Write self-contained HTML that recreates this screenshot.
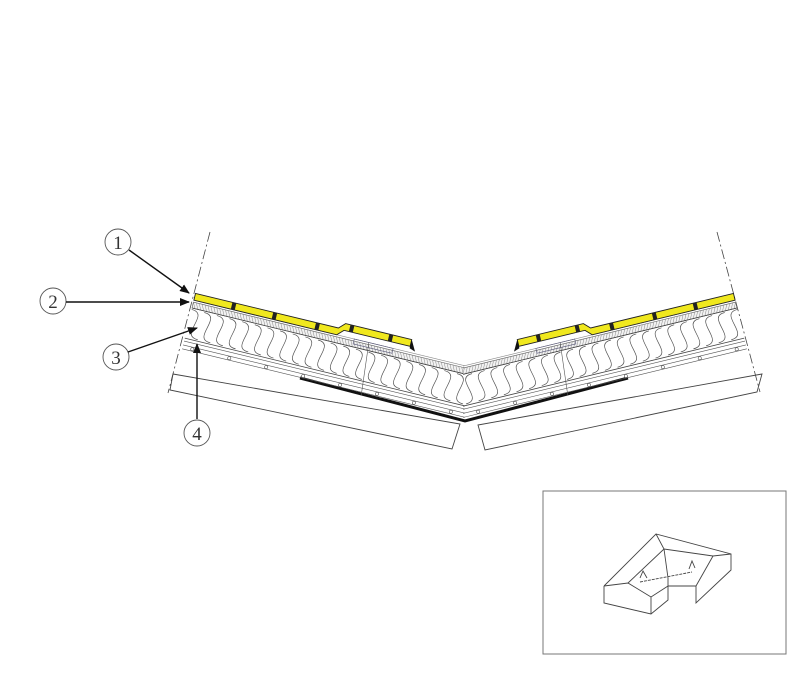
<!DOCTYPE html>
<html><head><meta charset="utf-8"><style>
body{margin:0;background:#fff;}
svg{display:block}
text{font-family:"Liberation Serif",serif;font-size:19px;fill:#333}
</style></head><body>
<svg id="s" width="812" height="682" viewBox="0 0 812 682" xmlns="http://www.w3.org/2000/svg">
<defs>
<marker id="ar" markerWidth="10" markerHeight="8" refX="9" refY="4" orient="auto" markerUnits="userSpaceOnUse">
<path d="M0,0 L10,4 L0,8 Z" fill="#111"/></marker>
<clipPath id="cl"><polygon points="150,200 465,200 465,460 150,460"/></clipPath>
<clipPath id="cr"><polygon points="463,200 800,200 800,460 463,460"/></clipPath>
</defs>
<line x1="210" y1="232" x2="168" y2="393" stroke="#444" stroke-width="0.8" stroke-dasharray="10,3,2,3"/>
<line x1="717" y1="232" x2="760" y2="392" stroke="#444" stroke-width="0.8" stroke-dasharray="10,3,2,3"/>
<polygon points="173,374 460,424 452,449 170,390" fill="none" stroke="#444" stroke-width="0.9"/>
<polygon points="478,425 762,374 757,392 485,450" fill="none" stroke="#444" stroke-width="0.9"/>
<polyline points="300,378 465,421 628,378" fill="none" stroke="#111" stroke-width="3"/>
<g id="L" clip-path="url(#cl)"></g>
<g id="R" clip-path="url(#cr)"></g>
<g fill="none" stroke="#555" stroke-width="0.9">
<circle cx="118" cy="242" r="13"/><circle cx="53" cy="301" r="13"/>
<circle cx="116" cy="357" r="13"/><circle cx="197" cy="433" r="13"/>
</g>
<text x="118" y="249" text-anchor="middle">1</text>
<text x="53" y="308" text-anchor="middle">2</text>
<text x="116" y="364" text-anchor="middle">3</text>
<text x="197" y="440" text-anchor="middle">4</text>
<g stroke="#111" stroke-width="1.4" marker-end="url(#ar)">
<line x1="129" y1="250" x2="189" y2="293"/>
<line x1="66" y1="302" x2="189" y2="302"/>
<line x1="128" y1="352" x2="197" y2="328"/>
<line x1="197" y1="419" x2="197" y2="344"/>
</g>
<rect x="543" y="491" width="243" height="163" fill="none" stroke="#777" stroke-width="1"/>
<g fill="none" stroke="#444" stroke-width="0.9">
<polyline points="604,586 656,534 731,554 731,570 696,603 696,586 668,586 668,600 651,614 604,603 604,586"/>
<polyline points="604,586 628,583 651,597 668,586"/>
<polyline points="651,597 651,614"/>
<polyline points="656,534 664,549 668,578 668,586"/>
<polyline points="628,583 664,549 713,556 731,554"/>
<polyline points="713,556 696,586"/>
<line x1="640" y1="582" x2="692" y2="572" stroke-dasharray="3,1"/>
<polyline points="640,578 643,571 647,578"/><polyline points="689,569 692,561 695,568"/>
</g>
</svg>
<script>
function build(g){
  var h='',Lg=300;
  h+='<rect x="0" y="-6" width="'+Lg+'" height="6" fill="#f2f2f2" stroke="#555" stroke-width="0.6"/>';
  for(var x=0;x<Lg;x+=3){h+='<line x1="'+x+'" y1="-6" x2="'+(x+3)+'" y2="0" stroke="#888" stroke-width="0.5"/>';}
  h+='<line x1="0" y1="-8" x2="'+Lg+'" y2="-8" stroke="#888" stroke-width="0.6"/>';
  h+='<line x1="0" y1="0" x2="'+Lg+'" y2="0" stroke="#444" stroke-width="0.8"/>';
  h+='<line x1="0" y1="31" x2="'+Lg+'" y2="31" stroke="#444" stroke-width="0.8"/>';
  var p='';
  for(var x=0;x<Lg;x+=13){p+='M'+x+',1.5 C'+(x+20)+',1.5 '+(x-7)+',29.5 '+(x+13)+',29.5 ';}
  h+='<path d="'+p+'" fill="none" stroke="#555" stroke-width="0.7"/>';
  [34,38,42].forEach(function(y){h+='<line x1="0" y1="'+y+'" x2="'+Lg+'" y2="'+y+'" stroke="#555" stroke-width="0.6"/>';});
  for(var x=10;x<Lg;x+=38){h+='<circle cx="'+x+'" cy="40" r="1.6" fill="#fff" stroke="#555" stroke-width="0.6"/>';}
  h+='<path d="M0,-15 L147,-15 L153,-21 L221,-21 L221,-14 L153,-14 L147,-8 L0,-8 Z" fill="#f0e81e" stroke="#222" stroke-width="0.9"/>';
  [40,82,126,160,200].forEach(function(x){var y=x<150?-15:-21;h+='<rect x="'+(x-2)+'" y="'+y+'" width="4" height="7" fill="#222"/>';});
  h+='<path d="M221,-21 L227,-10 L221,-12 Z" fill="#111"/>';
  h+='<rect x="165" y="-8" width="40" height="5" fill="none" stroke="#557" stroke-width="0.6"/>';
  h+='<line x1="180" y1="-8" x2="185" y2="45" stroke="#555" stroke-width="0.6"/>';
  g.innerHTML=h;
}
var NS="http://www.w3.org/2000/svg";
var gl=document.createElementNS(NS,"g");gl.setAttribute('transform','translate(192,308) rotate(13.6)');document.getElementById('L').appendChild(gl);build(gl);
var gr=document.createElementNS(NS,"g");gr.setAttribute('transform','translate(737,308) scale(-1,1) rotate(13.6)');document.getElementById('R').appendChild(gr);build(gr);
</script>
</body></html>
